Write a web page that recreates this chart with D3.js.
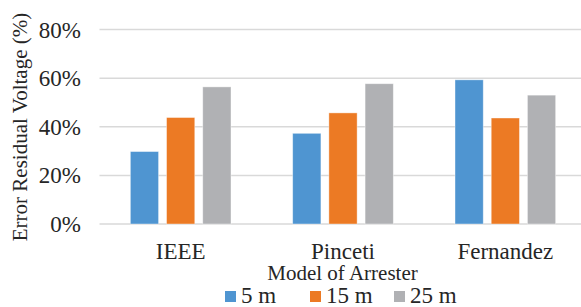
<!DOCTYPE html>
<html>
<head>
<meta charset="utf-8">
<script src="https://cdn.jsdelivr.net/npm/d3@7"></script>
<style>
  body { margin: 0; background: #fff; }
</style>
</head>
<body>
<svg id="chart" width="581" height="307" font-family="'Liberation Serif', 'Times New Roman', 'DejaVu Serif', serif"></svg>
<script>
// chart data
var models = ['IEEE', 'Pinceti', 'Fernandez'];
var distances = ['5 m', '15 m', '25 m'];
var error5m = [0.298, 0.373, 0.593];
var error15m = [0.438, 0.457, 0.436];
var error25m = [0.564, 0.577, 0.530];
var yTicks = [0, 0.2, 0.4, 0.6, 0.8];
var colors = ['#4f95d1', '#ec7a24', '#b0b1b4'];

var series = [error5m, error15m, error25m];
var svg = d3.select('#chart');
var textColor = '#262626';

var x = d3.scaleBand()
  .domain(models)
  .range([99.5, 586.5])
  .paddingInner(0.38)
  .paddingOuter(0.19);

var xSub = d3.scaleBand()
  .domain(distances)
  .range([0, x.bandwidth()])
  .paddingInner(0.22);

var y = d3.scaleLinear()
  .domain([0, 0.8])
  .range([224, 29.5]);

// gridlines
svg.append('g')
  .selectAll('line')
  .data(yTicks)
  .enter().append('line')
  .attr('x1', 99.5)
  .attr('x2', 581)
  .attr('y1', function(d) { return y(d); })
  .attr('y2', function(d) { return y(d); })
  .attr('stroke', '#d9d9d9')
  .attr('stroke-width', 1.5);

// y tick labels
svg.append('g')
  .selectAll('text')
  .data(yTicks)
  .enter().append('text')
  .attr('x', 81)
  .attr('y', function(d) { return y(d) + 8; })
  .attr('text-anchor', 'end')
  .attr('fill', textColor)
  .attr('font-size', 23)
  .text(d3.format('.0%'));

// bars
var groups = svg.append('g')
  .selectAll('g')
  .data(models)
  .enter().append('g')
  .attr('transform', function(d) { return 'translate(' + x(d) + ',0)'; });

groups.selectAll('rect')
  .data(function(d, i) {
    return distances.map(function(dist, j) {
      return { dist: dist, value: series[j][i], color: colors[j] };
    });
  })
  .enter().append('rect')
  .attr('x', function(d) { return xSub(d.dist); })
  .attr('y', function(d) { return y(d.value); })
  .attr('width', xSub.bandwidth())
  .attr('height', function(d) { return y(0) - y(d.value); })
  .attr('fill', function(d) { return d.color; })
  .attr('stroke', '#ffffff')
  .attr('stroke-opacity', 0.5)
  .attr('stroke-width', 0.8);

// x category labels
svg.append('g')
  .selectAll('text')
  .data(models)
  .enter().append('text')
  .attr('x', function(d) { return x(d) + x.bandwidth() / 2; })
  .attr('y', 259)
  .attr('text-anchor', 'middle')
  .attr('fill', textColor)
  .attr('font-size', 23)
  .text(function(d) { return d; });

// axis titles
svg.append('text')
  .attr('x', 342.5)
  .attr('y', 280)
  .attr('text-anchor', 'middle')
  .attr('fill', textColor)
  .attr('font-size', 21)
  .text('Model of Arrester');

svg.append('text')
  .attr('transform', 'translate(27,127) rotate(-90)')
  .attr('text-anchor', 'middle')
  .attr('fill', textColor)
  .attr('font-size', 21)
  .text('Error Residual Voltage (%)');

// legend
var legendX = [225, 310, 394];
var legend = svg.append('g')
  .selectAll('g')
  .data(distances)
  .enter().append('g')
  .attr('transform', function(d, i) { return 'translate(' + legendX[i] + ',0)'; });

legend.append('rect')
  .attr('x', 0)
  .attr('y', 291)
  .attr('width', 11)
  .attr('height', 11)
  .attr('fill', function(d, i) { return colors[i]; });

legend.append('text')
  .attr('x', 16)
  .attr('y', 303)
  .attr('fill', textColor)
  .attr('font-size', 23)
  .text(function(d) { return d; });
</script>
</body>
</html>
